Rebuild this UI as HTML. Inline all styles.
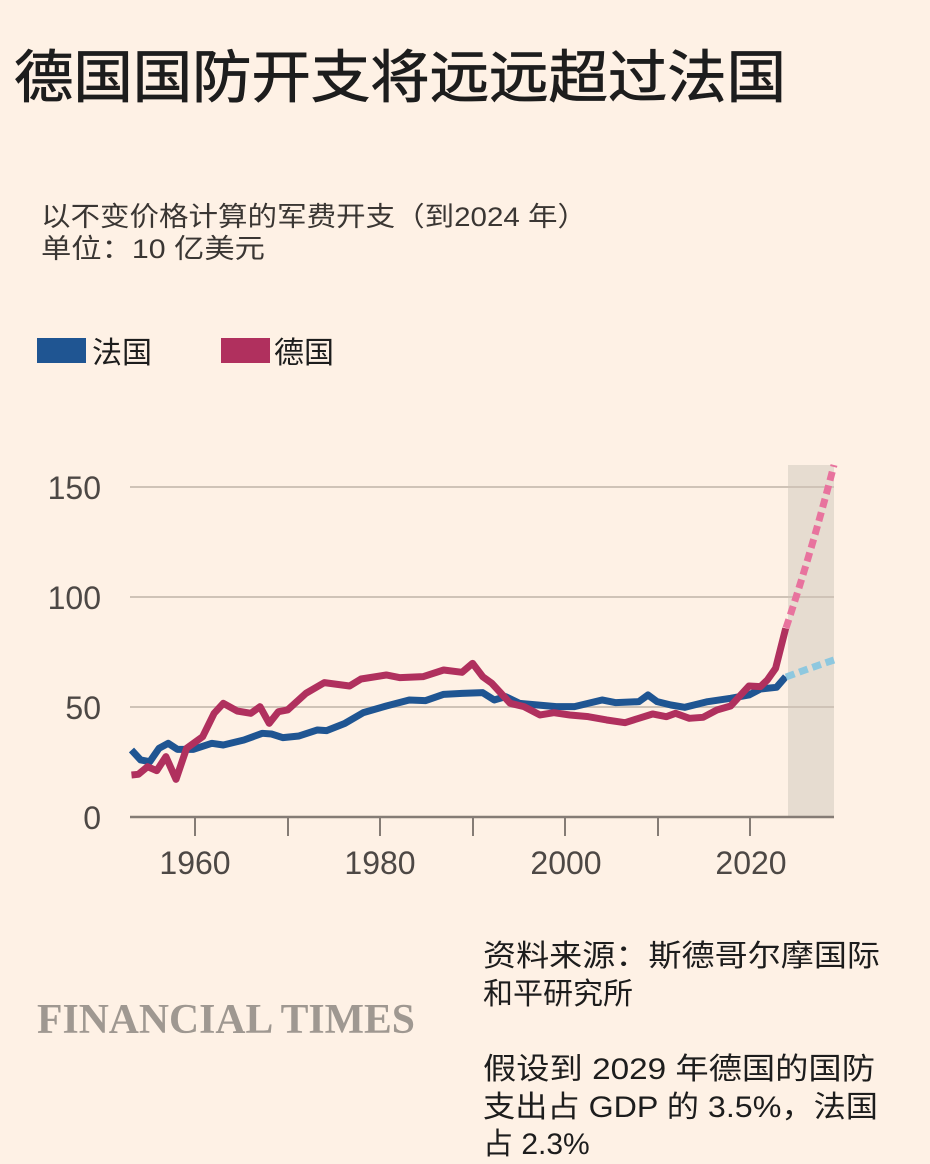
<!DOCTYPE html>
<html><head><meta charset="utf-8"><style>
html,body{margin:0;padding:0;background:#fef1e5;}
svg{display:block;}
.cjk{font-family:"Liberation Sans","Noto Sans CJK SC",sans-serif;}
</style></head><body>
<svg width="930" height="1164" viewBox="0 0 930 1164" xmlns="http://www.w3.org/2000/svg" class="cjk">
<rect width="930" height="1164" fill="#fef1e5"/>
<text x="14" y="97" font-size="57" fill="#1d1d1d" stroke="#1d1d1d" stroke-width="0.8" textLength="772" lengthAdjust="spacingAndGlyphs">德国国防开支将远远超过法国</text>
<text x="41" y="226" font-size="27" fill="#3a3633" textLength="546" lengthAdjust="spacingAndGlyphs">以不变价格计算的军费开支（到2024 年）</text>
<text x="41" y="258" font-size="27" fill="#3a3633" textLength="224" lengthAdjust="spacingAndGlyphs">单位：10 亿美元</text>
<rect x="37" y="338" width="49" height="25" fill="#1f5592"/>
<text x="92" y="363" font-size="30" fill="#1d1d1d">法国</text>
<rect x="221" y="338" width="49" height="25" fill="#b0305e"/>
<text x="274" y="363" font-size="30" fill="#1d1d1d">德国</text>

<rect x="788" y="465" width="46" height="352" fill="#e6dcd0"/>
<g stroke="#cfc3b7" stroke-width="2">
<line x1="130" y1="487" x2="834" y2="487"/>
<line x1="130" y1="597" x2="834" y2="597"/>
<line x1="130" y1="707" x2="834" y2="707"/>
</g>
<line x1="130" y1="817" x2="834" y2="817" stroke="#857c75" stroke-width="2.5"/>
<g stroke="#857c75" stroke-width="2">
<line x1="195" y1="817" x2="195" y2="836"/><line x1="288" y1="817" x2="288" y2="836"/>
<line x1="380" y1="817" x2="380" y2="836"/><line x1="473" y1="817" x2="473" y2="836"/>
<line x1="565" y1="817" x2="565" y2="836"/><line x1="658" y1="817" x2="658" y2="836"/>
<line x1="750" y1="817" x2="750" y2="836"/>
</g>
<g font-size="32" fill="#4d4845" text-anchor="end">
<text x="101" y="499">150</text><text x="101" y="609">100</text>
<text x="101" y="719">50</text><text x="101" y="829">0</text>
</g>
<g font-size="32" fill="#4d4845" text-anchor="middle">
<text x="195" y="874">1960</text><text x="380" y="874">1980</text>
<text x="566" y="874">2000</text><text x="751" y="874">2020</text>
</g>

<g transform="translate(120,580) scale(0.4591,0.3333)" fill="none" stroke-linejoin="round">
<polyline vector-effect="non-scaling-stroke" stroke="#1f5592" stroke-width="7" points="25,510 45,540 65,545 85,505 105,490 125,508 160,508 200,490 225,495 270,480 310,460 330,462 355,473 390,468 430,450 450,452 490,430 530,398 580,378 630,360 665,362 705,343 745,340 790,338 815,360 840,350 870,370 910,375 950,380 990,380 1050,360 1080,368 1130,365 1150,345 1170,365 1200,375 1230,382 1280,365 1330,355 1370,345 1395,327 1430,322 1450,290"/>
<polyline vector-effect="non-scaling-stroke" stroke="#b0305e" stroke-width="7" points="25,585 40,583 60,560 80,572 100,530 122,598 145,505 180,470 205,400 225,370 255,393 285,400 305,380 325,430 345,395 365,390 405,340 445,308 500,318 525,297 580,285 610,293 660,290 705,270 745,277 768,250 790,290 810,310 850,370 880,380 915,405 945,398 980,405 1020,410 1060,420 1100,428 1160,402 1190,410 1210,400 1240,415 1270,412 1300,390 1330,378 1370,318 1395,320 1410,300 1428,265 1450,145"/>
</g>
<path d="M786,628 Q812,550 834,465" fill="none" stroke="#e8739e" stroke-width="7" stroke-dasharray="9,5"/>
<path d="M786,677 Q810,668 834,660" fill="none" stroke="#8ec8df" stroke-width="7" stroke-dasharray="9,5"/>

<text x="37" y="1033" font-family="Liberation Serif,serif" font-weight="bold" font-size="42" fill="#9f9891" textLength="378" lengthAdjust="spacingAndGlyphs">FINANCIAL TIMES</text>
<g font-size="30" fill="#1d1d1d">
<text x="483" y="966" textLength="397" lengthAdjust="spacingAndGlyphs">资料来源：斯德哥尔摩国际</text>
<text x="483" y="1004">和平研究所</text>
<text x="483" y="1079" textLength="392" lengthAdjust="spacingAndGlyphs">假设到 2029 年德国的国防</text>
<text x="483" y="1117" textLength="395" lengthAdjust="spacingAndGlyphs">支出占 GDP 的 3.5%，法国</text>
<text x="483" y="1154">占 2.3%</text>
</g>
</svg>
</body></html>
